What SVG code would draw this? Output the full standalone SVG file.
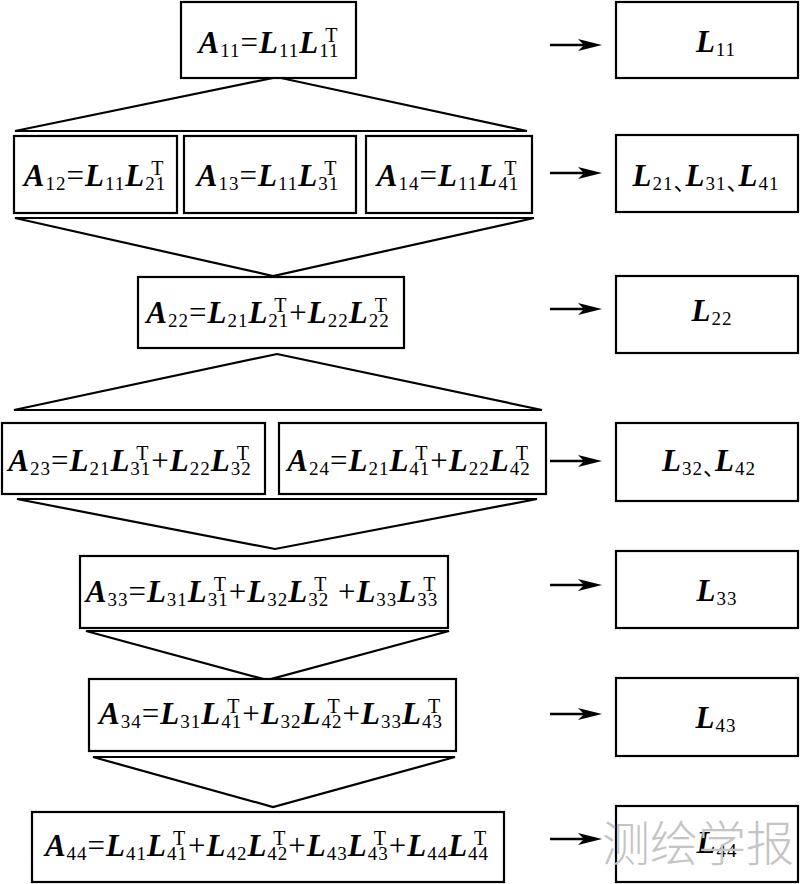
<svg xmlns="http://www.w3.org/2000/svg" width="800" height="884" viewBox="0 0 800 884">
<defs>
<style>
.box{fill:#fff;stroke:#000;stroke-width:2.2}
.ln{fill:none;stroke:#000;stroke-width:2.2;stroke-linejoin:miter}
.ar{stroke:#000;stroke-width:2.6;marker-end:url(#ah)}
.t{font-family:"Liberation Serif","Times New Roman",serif;font-size:31px;letter-spacing:1px;fill:#000;text-anchor:middle}
.v{font-weight:bold;font-style:italic}
.s{font-size:19px}
.p{font-size:20px}
.c{font-family:"Noto Sans CJK SC","Noto Sans CJK JP",sans-serif;font-size:22px}
.wm{font-family:"Noto Sans CJK SC","Noto Sans CJK JP",sans-serif;font-size:48px;font-weight:300;fill:#c4c4c4}
</style>
<marker id="ah" markerUnits="userSpaceOnUse" markerWidth="24" markerHeight="12" refX="14" refY="6" orient="auto"><path d="M0,0 L24,6 L0,12 L6,6 Z" fill="#000"/></marker>
</defs>
<rect width="800" height="884" fill="#fff"/>

<g id="connectors">
<polygon class="ln" points="15,131 273,78 281,78 527,131"/>
<polygon class="ln" points="15,218 534,218 273,276"/>
<polygon class="ln" points="277,354 542,410 14,410"/>
<polygon class="ln" points="17,499 537,499 275,549"/>
<polygon class="ln" points="86,631 449,631 267,680"/>
<polygon class="ln" points="93,757 455,757 273,807"/>
<line class="ar" x1="550" y1="45" x2="592" y2="45"/>
<line class="ar" x1="550" y1="173" x2="592" y2="173"/>
<line class="ar" x1="550" y1="309" x2="592" y2="309"/>
<line class="ar" x1="550" y1="461" x2="592" y2="461"/>
<line class="ar" x1="550" y1="585" x2="592" y2="585"/>
<line class="ar" x1="550" y1="714" x2="592" y2="714"/>
<line class="ar" x1="550" y1="839" x2="592" y2="839"/>
</g>

<g id="A11">
<rect class="box" x="181" y="2" width="175" height="76"/>
<text class="t" x="269" y="53"><tspan class="v">A</tspan><tspan class="s" dy="4">11</tspan><tspan dy="-4">=</tspan><tspan class="v">L</tspan><tspan class="s" dy="4">11</tspan><tspan class="v" dy="-4">L</tspan><tspan class="p" dx="6" dy="-11">T</tspan><tspan class="s" dx="-19.2" dy="15">11</tspan></text>
</g>

<g id="A12">
<rect class="box" x="14" y="136" width="163" height="77"/>
<text class="t" x="95" y="186"><tspan class="v">A</tspan><tspan class="s" dy="4">12</tspan><tspan dy="-4">=</tspan><tspan class="v">L</tspan><tspan class="s" dy="4">11</tspan><tspan class="v" dy="-4">L</tspan><tspan class="p" dx="6" dy="-11">T</tspan><tspan class="s" dx="-19.2" dy="15">21</tspan></text>
</g>

<g id="A13">
<rect class="box" x="184" y="136" width="172" height="77"/>
<text class="t" x="268" y="186"><tspan class="v">A</tspan><tspan class="s" dy="4">13</tspan><tspan dy="-4">=</tspan><tspan class="v">L</tspan><tspan class="s" dy="4">11</tspan><tspan class="v" dy="-4">L</tspan><tspan class="p" dx="6" dy="-11">T</tspan><tspan class="s" dx="-19.2" dy="15">31</tspan></text>
</g>

<g id="A14">
<rect class="box" x="366" y="136" width="166" height="77"/>
<text class="t" x="448" y="186"><tspan class="v">A</tspan><tspan class="s" dy="4">14</tspan><tspan dy="-4">=</tspan><tspan class="v">L</tspan><tspan class="s" dy="4">11</tspan><tspan class="v" dy="-4">L</tspan><tspan class="p" dx="6" dy="-11">T</tspan><tspan class="s" dx="-19.2" dy="15">41</tspan></text>
</g>

<g id="A22">
<rect class="box" x="138" y="277" width="266" height="71"/>
<text class="t" x="268" y="323"><tspan class="v">A</tspan><tspan class="s" dy="4">22</tspan><tspan dy="-4">=</tspan><tspan class="v">L</tspan><tspan class="s" dy="4">21</tspan><tspan class="v" dy="-4">L</tspan><tspan class="p" dx="6" dy="-11">T</tspan><tspan class="s" dx="-19.2" dy="15">21</tspan><tspan dy="-4">+</tspan><tspan class="v">L</tspan><tspan class="s" dy="4">22</tspan><tspan class="v" dy="-4">L</tspan><tspan class="p" dx="6" dy="-11">T</tspan><tspan class="s" dx="-19.2" dy="15">22</tspan></text>
</g>

<g id="A23">
<rect class="box" x="2" y="423" width="263" height="71"/>
<text class="t" x="130" y="471"><tspan class="v">A</tspan><tspan class="s" dy="4">23</tspan><tspan dy="-4">=</tspan><tspan class="v">L</tspan><tspan class="s" dy="4">21</tspan><tspan class="v" dy="-4">L</tspan><tspan class="p" dx="6" dy="-11">T</tspan><tspan class="s" dx="-19.2" dy="15">31</tspan><tspan dy="-4">+</tspan><tspan class="v">L</tspan><tspan class="s" dy="4">22</tspan><tspan class="v" dy="-4">L</tspan><tspan class="p" dx="6" dy="-11">T</tspan><tspan class="s" dx="-19.2" dy="15">32</tspan></text>
</g>

<g id="A24">
<rect class="box" x="279" y="423" width="267" height="71"/>
<text class="t" x="409" y="471"><tspan class="v">A</tspan><tspan class="s" dy="4">24</tspan><tspan dy="-4">=</tspan><tspan class="v">L</tspan><tspan class="s" dy="4">21</tspan><tspan class="v" dy="-4">L</tspan><tspan class="p" dx="6" dy="-11">T</tspan><tspan class="s" dx="-19.2" dy="15">41</tspan><tspan dy="-4">+</tspan><tspan class="v">L</tspan><tspan class="s" dy="4">22</tspan><tspan class="v" dy="-4">L</tspan><tspan class="p" dx="6" dy="-11">T</tspan><tspan class="s" dx="-19.2" dy="15">42</tspan></text>
</g>

<g id="A33">
<rect class="box" x="80" y="556" width="368" height="72"/>
<text class="t" x="262" y="602"><tspan class="v">A</tspan><tspan class="s" dy="4">33</tspan><tspan dy="-4">=</tspan><tspan class="v">L</tspan><tspan class="s" dy="4">31</tspan><tspan class="v" dy="-4">L</tspan><tspan class="p" dx="6" dy="-11">T</tspan><tspan class="s" dx="-19.2" dy="15">31</tspan><tspan dy="-4">+</tspan><tspan class="v">L</tspan><tspan class="s" dy="4">32</tspan><tspan class="v" dy="-4">L</tspan><tspan class="p" dx="6" dy="-11">T</tspan><tspan class="s" dx="-19.2" dy="15">32</tspan><tspan dy="-4">&#160;+</tspan><tspan class="v">L</tspan><tspan class="s" dy="4">33</tspan><tspan class="v" dy="-4">L</tspan><tspan class="p" dx="6" dy="-11">T</tspan><tspan class="s" dx="-19.2" dy="15">33</tspan></text>
</g>

<g id="A34">
<rect class="box" x="89" y="679" width="367" height="72"/>
<text class="t" x="271" y="724"><tspan class="v">A</tspan><tspan class="s" dy="4">34</tspan><tspan dy="-4">=</tspan><tspan class="v">L</tspan><tspan class="s" dy="4">31</tspan><tspan class="v" dy="-4">L</tspan><tspan class="p" dx="6" dy="-11">T</tspan><tspan class="s" dx="-19.2" dy="15">41</tspan><tspan dy="-4">+</tspan><tspan class="v">L</tspan><tspan class="s" dy="4">32</tspan><tspan class="v" dy="-4">L</tspan><tspan class="p" dx="6" dy="-11">T</tspan><tspan class="s" dx="-19.2" dy="15">42</tspan><tspan dy="-4">+</tspan><tspan class="v">L</tspan><tspan class="s" dy="4">33</tspan><tspan class="v" dy="-4">L</tspan><tspan class="p" dx="6" dy="-11">T</tspan><tspan class="s" dx="-19.2" dy="15">43</tspan></text>
</g>

<g id="A44">
<rect class="box" x="32" y="812" width="472" height="70"/>
<text class="t" x="267" y="856"><tspan class="v">A</tspan><tspan class="s" dy="4">44</tspan><tspan dy="-4">=</tspan><tspan class="v">L</tspan><tspan class="s" dy="4">41</tspan><tspan class="v" dy="-4">L</tspan><tspan class="p" dx="6" dy="-11">T</tspan><tspan class="s" dx="-19.2" dy="15">41</tspan><tspan dy="-4">+</tspan><tspan class="v">L</tspan><tspan class="s" dy="4">42</tspan><tspan class="v" dy="-4">L</tspan><tspan class="p" dx="6" dy="-11">T</tspan><tspan class="s" dx="-19.2" dy="15">42</tspan><tspan dy="-4">+</tspan><tspan class="v">L</tspan><tspan class="s" dy="4">43</tspan><tspan class="v" dy="-4">L</tspan><tspan class="p" dx="6" dy="-11">T</tspan><tspan class="s" dx="-19.2" dy="15">43</tspan><tspan dy="-4">+</tspan><tspan class="v">L</tspan><tspan class="s" dy="4">44</tspan><tspan class="v" dy="-4">L</tspan><tspan class="p" dx="6" dy="-11">T</tspan><tspan class="s" dx="-19.2" dy="15">44</tspan></text>
</g>

<g id="L11">
<rect class="box" x="616" y="2" width="182" height="76"/>
<text class="t" x="716" y="52"><tspan class="v">L</tspan><tspan class="s" dy="4">11</tspan></text>
</g>

<g id="L21_L31_L41">
<rect class="box" x="616" y="135" width="182" height="77"/>
<text class="t" x="706" y="186"><tspan class="v">L</tspan><tspan class="s" dy="4">21</tspan><tspan class="c">、</tspan><tspan class="v" dx="-11" dy="-4">L</tspan><tspan class="s" dy="4">31</tspan><tspan class="c">、</tspan><tspan class="v" dx="-11" dy="-4">L</tspan><tspan class="s" dy="4">41</tspan></text>
</g>

<g id="L22">
<rect class="box" x="616" y="276" width="182" height="77"/>
<text class="t" x="712" y="321"><tspan class="v">L</tspan><tspan class="s" dy="4">22</tspan></text>
</g>

<g id="L32_L42">
<rect class="box" x="616" y="423" width="182" height="78"/>
<text class="t" x="709" y="471"><tspan class="v">L</tspan><tspan class="s" dy="4">32</tspan><tspan class="c">、</tspan><tspan class="v" dx="-11" dy="-4">L</tspan><tspan class="s" dy="4">42</tspan></text>
</g>

<g id="L33">
<rect class="box" x="616" y="551" width="182" height="77"/>
<text class="t" x="717" y="601"><tspan class="v">L</tspan><tspan class="s" dy="4">33</tspan></text>
</g>

<g id="L43">
<rect class="box" x="616" y="678" width="182" height="78"/>
<text class="t" x="716" y="728"><tspan class="v">L</tspan><tspan class="s" dy="4">43</tspan></text>
</g>

<g id="L44">
<rect class="box" x="616" y="806" width="182" height="76"/>
<text class="t" x="717" y="853"><tspan class="v">L</tspan><tspan class="s" dy="4">44</tspan></text>
</g>

<text class="wm" x="602" y="861">测绘学报</text>
</svg>
